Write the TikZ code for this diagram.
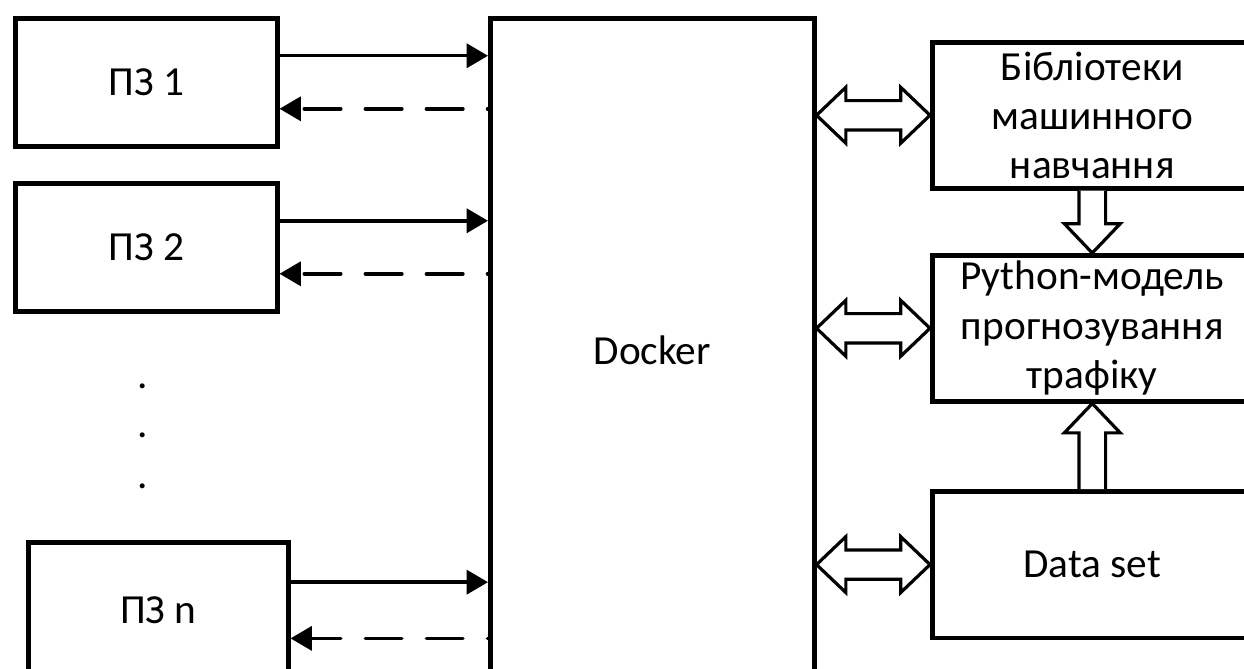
\documentclass[tikz,border=0pt]{standalone}
\usepackage{fontspec}
\setmainfont{Carlito}
\usetikzlibrary{arrows.meta,calc}

% hollow double arrow between two points
\newcommand{\dblfat}[2]{%
  \draw[fat] (#1) -- ++(22pt,21pt) -- ++(0,-10pt) -- ([shift={(-22pt,11pt)}]#2) -- ++(0,10pt) -- (#2)
    -- ++(-22pt,-21pt) -- ++(0,10pt) -- ([shift={(22pt,-11pt)}]#1) -- ++(0,-10pt) -- cycle;}

\begin{document}
\begin{tikzpicture}[x=0.75pt, y=-0.75pt,
    box/.style={draw, line width=3.4pt, anchor=north west, align=center,
      font=\fontsize{31pt}{37pt}\selectfont},
    flow/.style={line width=2.6pt, -{Triangle[length=16pt,width=18pt]}},
    back/.style={flow, line cap=round, dash pattern=on 27.4pt off 18.4pt, dash phase=27pt},
    fat/.style={line width=2.4pt, fill=white, line join=miter}]
    \useasboundingbox (0,0) rectangle (1244,668);

    % left side
    \node[box, minimum width=196.5pt, minimum height=96pt] (pz1) at (13,16) {ПЗ 1};
    \node[box, minimum width=196.5pt, minimum height=96pt] (pz2) at (13,181) {ПЗ 2};
    \node[box, minimum width=195pt, minimum height=102pt] (pzn) at (26,540) {ПЗ n};
    \foreach \y [count=\i] in {386,435,486}
        \node[font=\fontsize{31pt}{37pt}\selectfont, inner sep=0pt] (dot\i) at (143,\y) {.};

    % middle
    \node[box, minimum width=243pt, minimum height=498pt] (docker) at (488,16) {Docker};

    % right side
    \node[box, minimum width=240pt, minimum height=109.5pt] (lib) at (930,40) {Бібліотеки\\машинного\\навчання};
    \node[box, minimum width=240pt, minimum height=109.5pt] (model) at (930,253) {Python-модель\\прогнозування\\трафіку};
    \node[box, minimum width=240pt, minimum height=110pt] (data) at (930,489) {Data set};

    % requests and answers
    \foreach \pz in {pz1,pz2,pzn} {
        \coordinate (\pz-out) at ($(\pz.north east)!0.3!(\pz.south east)$);
        \coordinate (\pz-in) at ($(\pz.north east)!0.7!(\pz.south east)$);
        \draw[flow] (\pz-out) -- (\pz-out -| docker.west);
        \draw[back] (\pz-in -| docker.west) -- (\pz-in);
    }

    % hollow arrows
    \dblfat{docker.east |- lib.west}{lib.west}
    \dblfat{docker.east |- model.west}{model.west}
    \dblfat{docker.east |- data.west}{data.west}
    \draw[fat] ([xshift=-10pt]lib.south) -- ([shift={(-10pt,22pt)}]model.north) -- ([shift={(-21pt,22pt)}]model.north)
        -- (model.north) -- ([shift={(21pt,22pt)}]model.north) -- ([shift={(10pt,22pt)}]model.north) -- ([xshift=10pt]lib.south);
    \draw[fat] ([xshift=-10pt]data.north) -- ([shift={(-10pt,-22pt)}]model.south) -- ([shift={(-21pt,-22pt)}]model.south)
        -- (model.south) -- ([shift={(21pt,-22pt)}]model.south) -- ([shift={(10pt,-22pt)}]model.south) -- ([xshift=10pt]data.north);
\end{tikzpicture}
\end{document}
